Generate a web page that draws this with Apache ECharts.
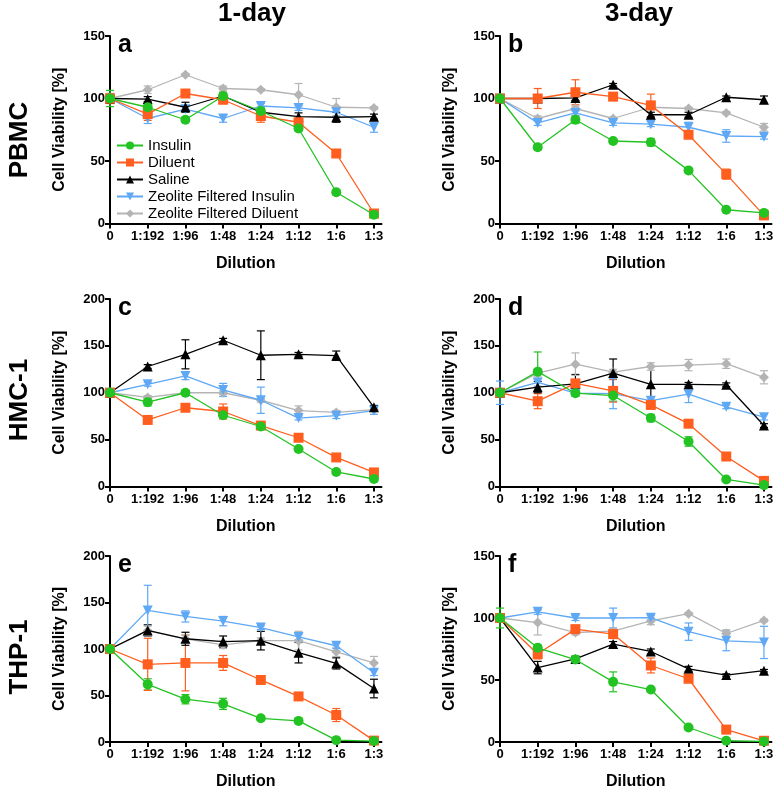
<!DOCTYPE html>
<html>
<head>
<meta charset="utf-8">
<script src="https://cdn.jsdelivr.net/npm/echarts@6/dist/echarts.min.js"></script>
<style>html,body{margin:0;padding:0;background:#fff;}#chart{width:783px;height:791px;}</style>
</head>
<body>
<div id="chart"></div>
<script>
// ---------- data ----------
const categories = ['0', '1:192', '1:96', '1:48', '1:24', '1:12', '1:6', '1:3'];
const seriesNames = ['Insulin', 'Diluent', 'Saline', 'Zeolite Filtered Insulin', 'Zeolite Filtered Diluent'];
const columnTitles = ['1-day', '3-day'];
const rowTitles = ['PBMC', 'HMC-1', 'THP-1'];
const panelLetters = ['a', 'b', 'c', 'd', 'e', 'f'];
const yMax = [150, 150, 200, 200, 200, 150];
const yTicks = [0, 50, 100, 150, 200];

// Panel a: PBMC 1-day
const a_insulin = [100, 93, 83, 102, 90, 76, 25, 7];
const a_insulin_err = [6.5, 3, 2, 3, 3, 2, 2, 2];
const a_diluent = [100, 87.5, 104, 99, 86, 81, 56, 8];
const a_diluent_err = [4, 5, 3, 3, 5, 3, 2, 2];
const a_saline = [100, 99.5, 93, 102, 89, 85.5, 85, 85.5];
const a_saline_err = [3, 2, 4, 2, 2, 3, 4, 2];
const a_zfi = [100, 84, 91.5, 84, 94, 92.5, 89, 77];
const a_zfi_err = [3, 4, 2, 3, 2, 2, 3, 4];
const a_zfd = [100, 107, 119, 108, 107, 103, 93, 92.5];
const a_zfd_err = [2, 3, 1, 2, 1, 9, 7, 1];

// Panel b: PBMC 3-day
const b_insulin = [100, 61, 83, 66, 65, 42.5, 11, 8.5];
const b_insulin_err = [1, 2, 3, 1, 3, 1, 1, 1];
const b_diluent = [100, 100, 105, 101.5, 94.5, 71, 39.5, 6.5];
const b_diluent_err = [1, 8, 10, 2, 9, 2, 4, 2];
const b_saline = [100, 100, 100.5, 111, 87, 87, 101, 99];
const b_saline_err = [1, 1, 2, 1, 2, 2, 1, 3];
const b_zfi = [100, 80.5, 88.5, 80.5, 79.5, 77, 70, 69.5];
const b_zfi_err = [1, 2, 2, 2, 2, 4, 5, 2];
const b_zfd = [100, 84, 92, 84, 93, 92, 88.5, 77];
const b_zfd_err = [1, 2, 2, 1, 2, 1, 1, 3];

// Panel c: HMC-1 1-day
const c_insulin = [100, 90, 100, 76, 64, 40, 15.5, 8];
const c_insulin_err = [2, 4, 2, 3, 2, 2, 2, 2];
const c_diluent = [100, 71, 84, 80, 65, 52, 31, 15];
const c_diluent_err = [2, 2, 2, 8, 2, 2, 2, 2];
const c_saline = [100, 128, 141, 156, 140, 141, 139.5, 84.5];
const c_saline_err = [2, 2, 15.5, 2, 26, 2, 5, 2];
const c_zfi = [100, 109, 118, 103, 92, 73, 75.5, 81];
const c_zfi_err = [2, 2, 4, 7, 14, 2, 3, 4];
const c_zfd = [100, 95, 100, 100, 92, 81, 79, 82];
const c_zfd_err = [2, 2, 2, 2, 2, 5, 2, 2];

// Panel d: HMC-1 3-day
const d_insulin = [100, 122.5, 99.5, 97, 73, 48, 7.5, 1.5];
const d_insulin_err = [2, 21, 3, 6, 4, 5, 1, 1];
const d_diluent = [100, 91, 110, 102, 87, 67, 32, 6];
const d_diluent_err = [2, 8, 3, 12, 2, 2, 2, 1];
const d_saline = [100, 106, 109.5, 121, 109, 109, 108.5, 65];
const d_saline_err = [2, 6, 10, 15, 19, 2, 2, 2];
const d_zfi = [100, 111, 99.5, 99, 91.5, 98.5, 85, 74];
const d_zfi_err = [12.5, 4, 3, 16, 4, 9, 2, 3];
const d_zfd = [100, 121, 130.5, 122, 128, 129.5, 131, 116.5];
const d_zfd_err = [2, 4, 12, 3, 4, 6, 5, 7];

// Panel e: THP-1 1-day
const e_insulin = [100, 62, 46, 41, 25.5, 22.7, 2, 1];
const e_insulin_err = [1, 6, 5, 6, 1, 1, 1, 1];
const e_diluent = [100, 83.5, 85, 85, 66.7, 49, 29, 1.5];
const e_diluent_err = [1, 28, 30, 8, 1, 2, 7, 1];
const e_saline = [100, 120, 111, 108, 109, 96, 84.5, 57.5];
const e_saline_err = [1, 6, 7, 6, 10, 11, 6, 10];
const e_zfi = [100, 141.5, 135, 130, 123, 113, 103.5, 74.5];
const e_zfi_err = [1, 27, 6, 5, 2, 3, 3, 3];
const e_zfd = [100, 119.5, 111, 104.5, 109, 109, 97, 85];
const e_zfd_err = [1, 5, 4, 4, 3, 10, 5, 7];

// Panel f: THP-1 3-day
const f_insulin = [100, 76, 66.5, 48.5, 42.3, 11.7, 1, 0.5];
const f_insulin_err = [8, 2, 3, 8, 1, 1, 1, 1];
const f_diluent = [100, 71, 91, 87, 61.7, 51, 10, 1];
const f_diluent_err = [2, 4, 3, 3, 6, 2, 1, 1];
const f_saline = [100, 60, 67, 79, 73, 59, 54, 57.5];
const f_saline_err = [2, 5, 2, 2, 2, 2, 1, 1];
const f_zfi = [100, 105, 100, 100, 100.3, 89, 81.6, 80.3];
const f_zfi_err = [2, 2, 2, 8, 2, 7, 8, 13];
const f_zfd = [100, 96.3, 88.3, 89.4, 97.6, 103.5, 87.5, 98];
const f_zfd_err = [2, 10, 2, 2, 3, 1, 3, 1];

const panels = [
  [[a_insulin, a_insulin_err], [a_diluent, a_diluent_err], [a_saline, a_saline_err], [a_zfi, a_zfi_err], [a_zfd, a_zfd_err]],
  [[b_insulin, b_insulin_err], [b_diluent, b_diluent_err], [b_saline, b_saline_err], [b_zfi, b_zfi_err], [b_zfd, b_zfd_err]],
  [[c_insulin, c_insulin_err], [c_diluent, c_diluent_err], [c_saline, c_saline_err], [c_zfi, c_zfi_err], [c_zfd, c_zfd_err]],
  [[d_insulin, d_insulin_err], [d_diluent, d_diluent_err], [d_saline, d_saline_err], [d_zfi, d_zfi_err], [d_zfd, d_zfd_err]],
  [[e_insulin, e_insulin_err], [e_diluent, e_diluent_err], [e_saline, e_saline_err], [e_zfi, e_zfi_err], [e_zfd, e_zfd_err]],
  [[f_insulin, f_insulin_err], [f_diluent, f_diluent_err], [f_saline, f_saline_err], [f_zfi, f_zfi_err], [f_zfd, f_zfd_err]]
];

// ---------- styling ----------
const FONT = '"Liberation Sans", Arial, Helvetica, sans-serif';
const colors = ['#22c322', '#ff5e1e', '#000000', '#5ea8f5', '#b4b4b4'];
const symbols = ['circle', 'rect', 'triangle', 'triangle', 'diamond'];
const symbolRotates = [0, 0, 0, 180, 0];
const symbolSizes = [10, 10, 10, 10, 10];
const zOrder = [9, 8, 7, 6, 5];
const gridPos = [
  {left: 110, top: 36}, {left: 500, top: 36},
  {left: 110, top: 299}, {left: 500, top: 299},
  {left: 110, top: 556}, {left: 500, top: 556}
];
const GW = 271.5, GH = 187.5, XMAX = 7.2;
const catIdx = categories.map((c, i) => i);

const grid = [], xAxis = [], yAxis = [], series = [], graphic = [];

gridPos.forEach((g, p) => {
  grid.push({left: g.left, top: g.top, width: GW, height: GH, containLabel: false});
  xAxis.push({
    type: 'value', gridIndex: p, min: 0, max: XMAX,
    name: 'Dilution', nameLocation: 'middle', nameGap: 32,
    nameTextStyle: {fontFamily: FONT, fontWeight: 'bold', fontSize: 16, color: '#000'},
    axisLine: {show: true, lineStyle: {color: '#000', width: 2}},
    axisTick: {show: true, length: 5, lineStyle: {color: '#000', width: 2}, customValues: catIdx},
    axisLabel: {show: true, customValues: catIdx, margin: 6, color: '#000', fontFamily: FONT, fontWeight: 'bold', fontSize: 13,
      formatter: v => categories[Math.round(v)]},
    splitLine: {show: false}
  });
  yAxis.push({
    type: 'value', gridIndex: p, min: 0, max: yMax[p], interval: 50,
    name: 'Cell Viability [%]', nameLocation: 'middle', nameGap: 42,
    nameTextStyle: {fontFamily: FONT, fontWeight: 'bold', fontSize: 16, color: '#000'},
    axisLine: {show: true, lineStyle: {color: '#000', width: 2}},
    axisTick: {show: true, length: 5, lineStyle: {color: '#000', width: 2}},
    axisLabel: {margin: 5, color: '#000', fontFamily: FONT, fontWeight: 'bold', fontSize: 13},
    splitLine: {show: false}
  });

  panels[p].forEach((pair, s) => {
    const vals = pair[0], errs = pair[1];
    // error bars
    series.push({
      type: 'custom', xAxisIndex: p, yAxisIndex: p, z: 3,
      silent: true, clip: false,
      data: vals.map((v, i) => [i, v - errs[i], v + errs[i]]),
      renderItem: (params, api) => {
        const x = api.value(0);
        const top = api.coord([x, api.value(2)]);
        const bot = api.coord([x, api.value(1)]);
        const w = 4;
        const st = {stroke: colors[s], lineWidth: 1.2};
        return {type: 'group', children: [
          {type: 'line', shape: {x1: top[0], y1: top[1], x2: bot[0], y2: bot[1]}, style: st},
          {type: 'line', shape: {x1: top[0] - w, y1: top[1], x2: top[0] + w, y2: top[1]}, style: st},
          {type: 'line', shape: {x1: bot[0] - w, y1: bot[1], x2: bot[0] + w, y2: bot[1]}, style: st}
        ]};
      },
      encode: {x: 0, y: [1, 2]}
    });
    series.push({
      type: 'line', name: seriesNames[s], xAxisIndex: p, yAxisIndex: p,
      z: zOrder[s],
      data: vals.map((v, i) => [i, v]),
      symbol: symbols[s], symbolSize: symbolSizes[s], symbolRotate: symbolRotates[s],
      showAllSymbol: true,
      lineStyle: {color: colors[s], width: 1.3},
      itemStyle: {color: colors[s], borderWidth: 0},
      emphasis: {disabled: true},
      animation: false
    });
  });

  graphic.push({
    type: 'text', x: g.left + 8, y: g.top + 9,
    style: {text: panelLetters[p], fill: '#000', font: 'bold 25px ' + FONT, textAlign: 'left', textVerticalAlign: 'middle'}
  });
});

// column titles
[252, 639].forEach((cx, i) => graphic.push({
  type: 'text', x: cx, y: 14,
  style: {text: columnTitles[i], fill: '#000', font: 'bold 26px ' + FONT, textAlign: 'center', textVerticalAlign: 'middle'}
}));
// row titles
[140, 400, 657].forEach((cy, i) => graphic.push({
  type: 'text', x: 20, y: cy, rotation: Math.PI / 2,
  style: {text: rowTitles[i], fill: '#000', font: 'bold 26px ' + FONT, textAlign: 'center', textVerticalAlign: 'middle'}
}));

const chart = echarts.init(document.getElementById('chart'), null, {renderer: 'canvas'});
chart.setOption({
  animation: false,
  backgroundColor: '#fff',
  grid, xAxis, yAxis, series, graphic,
  legend: {
    data: seriesNames, orient: 'vertical', left: 116, top: 138,
    itemWidth: 26, itemHeight: 10, itemGap: 2, padding: 0,
    textStyle: {fontFamily: FONT, fontSize: 15, color: '#000', lineHeight: 15},
    selectedMode: false
  }
});
</script>
</body>
</html>
